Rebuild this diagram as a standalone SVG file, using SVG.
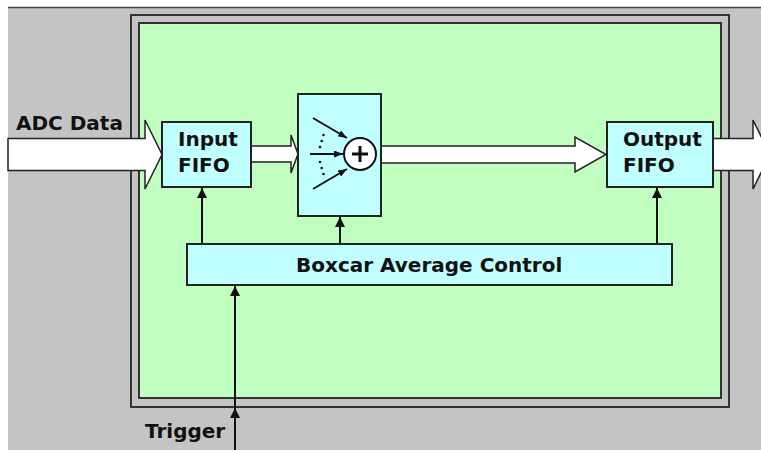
<svg xmlns="http://www.w3.org/2000/svg" width="761" height="450" viewBox="0 0 761 450">
<style>
  .t{font-family:"DejaVu Sans","Liberation Sans",sans-serif;font-weight:bold;font-size:20px;fill:#111}
  .blk{fill:#c0ffff;stroke:#222;stroke-width:2}
  .big{fill:#ffffff;stroke:#222;stroke-width:1.5;stroke-linejoin:miter}
  .ln{stroke:#111;stroke-width:2;fill:none}
</style>
<defs>
  <marker id="ah" viewBox="0 0 10 10" refX="10" refY="5" markerWidth="4.5" markerHeight="3.5" orient="auto" markerUnits="strokeWidth" preserveAspectRatio="none">
    <path d="M0,0 L10,5 L0,10 z" fill="#111"/>
  </marker>
  <marker id="ah2" viewBox="0 0 10 10" refX="10" refY="5" markerWidth="6" markerHeight="5" orient="auto" markerUnits="strokeWidth">
    <path d="M0,0 L10,5 L0,10 z" fill="#111"/>
  </marker>
</defs>
<rect x="0" y="0" width="761" height="450" fill="#ffffff"/>
<rect x="8" y="8" width="753" height="442" fill="#c4c4c4"/>
<line x1="8" y1="7.5" x2="761" y2="7.5" stroke="#444" stroke-width="1.5"/>

<g id="frame">
  <rect x="131" y="15" width="598" height="392" fill="#c4c4c4" stroke="#333" stroke-width="2"/>
  <rect x="139" y="23" width="582" height="375" fill="#c0ffc0" stroke="#333" stroke-width="2"/>
</g>

<g id="connectors">
  <path id="adc-arrow" class="big" d="M8,138.5 H145 V120 L162,154.5 L145,189 V170.5 H8 Z"/>
  <path class="big" d="M251,146 H291 V135 L298,154 L291,173 V162 H251 Z"/>
  <path class="big" d="M381,146 H575 V137 L606,154.5 L575,172 V163 H381 Z"/>
  <path id="out-arrow" class="big" d="M713,138.5 H753 V120 L770,154.5 L753,189 V170.5 H713 Z"/>
  <line class="ln" x1="202" y1="244" x2="202" y2="188" stroke-width="1.5" marker-end="url(#ah2)"/>
  <line class="ln" x1="340" y1="244" x2="340" y2="217" stroke-width="1.5" marker-end="url(#ah2)"/>
  <line class="ln" x1="657" y1="244" x2="657" y2="188" stroke-width="1.5" marker-end="url(#ah2)"/>
  <line class="ln" x1="235" y1="450" x2="235" y2="408" stroke-width="1.5" marker-end="url(#ah2)"/>
  <line class="ln" x1="235" y1="408" x2="235" y2="286" stroke-width="1.5" marker-end="url(#ah2)"/>
</g>

<g id="input-fifo">
  <rect class="blk" x="162" y="122" width="89" height="65"/>
  <text class="t" x="178" y="146">Input</text>
  <text class="t" x="178" y="172">FIFO</text>
</g>

<g id="summer">
  <rect class="blk" x="298" y="94" width="83" height="122"/>
  <line class="ln" x1="313" y1="118" x2="347" y2="138" marker-end="url(#ah)"/>
  <line class="ln" x1="310" y1="154" x2="343" y2="154" marker-end="url(#ah)"/>
  <line class="ln" x1="313" y1="189" x2="347" y2="169" marker-end="url(#ah)"/>
  <g fill="#111">
    <circle cx="323.5" cy="135" r="1.3"/>
    <circle cx="321.7" cy="141" r="1.3"/>
    <circle cx="320" cy="147" r="1.3"/>
    <circle cx="320" cy="162" r="1.3"/>
    <circle cx="321.7" cy="168" r="1.3"/>
    <circle cx="323.5" cy="174" r="1.3"/>
  </g>
  <circle cx="360" cy="154" r="16" fill="#ffffff" stroke="#111" stroke-width="2"/>
  <path d="M352,154 H368 M360,146 V162" stroke="#111" stroke-width="3" fill="none"/>
</g>

<g id="output-fifo">
  <rect class="blk" x="607" y="122" width="106" height="65"/>
  <text class="t" x="623" y="146">Output</text>
  <text class="t" x="623" y="172">FIFO</text>
</g>

<g id="boxcar">
  <rect class="blk" x="187" y="244" width="485" height="41"/>
  <text class="t" x="296" y="272">Boxcar Average Control</text>
</g>

<g id="labels">
  <text class="t" x="16" y="130">ADC Data</text>
  <text class="t" x="145" y="438">Trigger</text>
</g>
</svg>
